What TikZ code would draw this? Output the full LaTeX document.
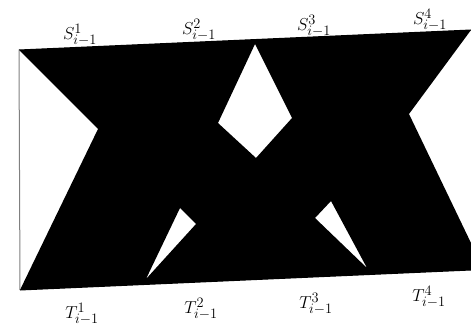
\documentclass[tikz,border=0pt]{standalone}
\begin{document}
\begin{tikzpicture}[x=1pt,y=-1pt,
  lbl/.style={inner sep=0pt,font=\fontsize{19}{22}\selectfont}]
\useasboundingbox (0,0) rectangle (471,326);
% outer corners
\coordinate (TL) at (19,50);
\coordinate (TR) at (471,30);
\coordinate (RN) at (409,114);
\coordinate (RB) at (471,243);
\coordinate (BR) at (471,270);
\coordinate (BL) at (20,290);
\coordinate (LN) at (98,129);
% diamond
\coordinate (D1) at (255,44);
\coordinate (D2) at (292,118);
\coordinate (D3) at (256,158);
\coordinate (D4) at (218,123);
% triangles
\coordinate (A1) at (180,208);
\coordinate (A2) at (196,224);
\coordinate (A3) at (146,279);
\coordinate (B1) at (331,201);
\coordinate (B2) at (367,268);
\coordinate (B3) at (315,218);
\fill[black,even odd rule]
  (TL) -- (TR) -- (RN) -- (RB) -- (BR) -- (BL) -- (LN) -- cycle
  (D1) -- (D2) -- (D3) -- (D4) -- cycle
  (A1) -- (A2) -- (A3) -- cycle
  (B1) -- (B2) -- (B3) -- cycle;
\draw[gray,line width=1pt] (TL) -- (BL);
\draw[black,line width=1pt] (TL) -- (TR);
\draw[black,line width=1pt] (BL) -- (BR);
% labels
\node[lbl] (s1) at (80,35) {$S^1_{i-1}$};
\node[lbl] (s2) at (199,30) {$S^2_{i-1}$};
\node[lbl] (s3) at (314,26) {$S^3_{i-1}$};
\node[lbl] (s4) at (430,20) {$S^4_{i-1}$};
\node[lbl] (t1) at (82,314) {$T^1_{i-1}$};
\node[lbl] (t2) at (201,309) {$T^2_{i-1}$};
\node[lbl] (t3) at (316,304) {$T^3_{i-1}$};
\node[lbl] (t4) at (429,297) {$T^4_{i-1}$};
\end{tikzpicture}
\end{document}
